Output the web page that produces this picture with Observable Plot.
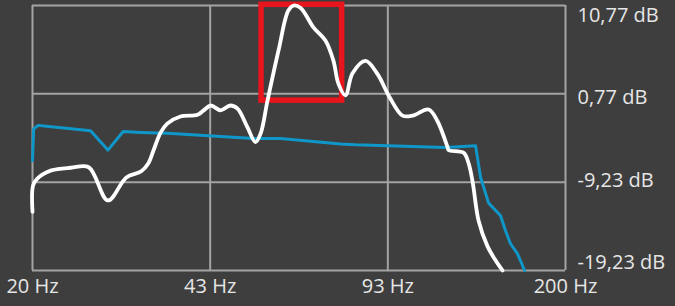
<!DOCTYPE html>
<html>
<head>
<meta charset="utf-8">
<script src="https://cdn.jsdelivr.net/npm/d3@7"></script>
<script src="https://cdn.jsdelivr.net/npm/@observablehq/plot@0.6"></script>
<style>
  html, body { margin: 0; padding: 0; background: #3e3e3e; }
</style>
</head>
<body>
<div id="chart"></div>
<script>
// Axis ticks
const freqTicks = [20, 43.09, 92.83, 200];
const freqTickLabels = ["20 Hz", "43 Hz", "93 Hz", "200 Hz"];
const dbTicks = [10.77, 0.77, -9.23, -19.23];
const dbTickLabels = ["10,77 dB", "0,77 dB", "-9,23 dB", "-19,23 dB"];

// White response curve
const whiteHz = [20, 20.05, 20.44, 21.7, 23.6, 25.5, 27.7, 30.0, 32.0, 33.0, 33.7, 34.8, 35.8, 37.9, 40.8, 41.9, 43.2, 45.1, 47.0, 48.5, 50.6, 52.4, 53.6, 55.2, 57.9, 60.4, 61.8, 63.7, 67.3, 70.9, 73.4, 75.0, 77.3, 79.7, 84.3, 88.8, 93.5, 98.9, 103.3, 110.7, 115.0, 120.2, 120.7, 128.8, 131.6, 133.9, 137.4, 142.8, 147.9, 152.4];
const whiteDb = [-12.6, -9.6, -8.8, -7.9, -7.6, -7.54, -11.3, -8.7, -8.0, -7.1, -5.7, -3.6, -2.6, -1.8, -1.6, -1.1, -0.55, -1.1, -0.55, -0.9, -3.0, -4.7, -3.7, 0.0, 5.7, 10.2, 10.77, 10.5, 8.3, 6.8, 4.5, 1.9, 0.6, 3.1, 4.5, 3.0, 0.4, -1.7, -1.7, -1.0, -2.3, -5.3, -5.6, -5.9, -7.1, -9.2, -13.6, -16.5, -18.1, -19.23];

// Blue target curve
const blueHz = [20, 20.1, 20.5, 21.2, 22.9, 25.7, 27.7, 29.6, 31.9, 35.8, 52.0, 58.4, 75.7, 80.7, 119.1, 135.6, 138.6, 143.5, 151.0, 154.3, 157.7, 162.4, 164.6, 167.6];
const blueDb = [-6.8, -3.2, -2.8, -2.9, -3.1, -3.4, -5.6, -3.5, -3.6, -3.7, -4.3, -4.3, -4.9, -5.0, -5.3, -5.1, -8.7, -11.6, -13.0, -14.7, -16.2, -17.3, -18.1, -19.23];

// Highlighted region
const highlightHz = [53.8, 76.2];
const highlightDb = [0, 10.85];

const white = whiteHz.map((f, i) => ({f, db: whiteDb[i]}));
const blue = blueHz.map((f, i) => ({f, db: blueDb[i]}));
const highlight = [{x1: highlightHz[0], x2: highlightHz[1], y1: highlightDb[0], y2: highlightDb[1]}];

const gridColor = "#a3a3a3";
const textColor = "#e6e6e6";

const chart = Plot.plot({
  width: 675,
  height: 306,
  marginLeft: 32,
  marginRight: 110,
  marginTop: 5,
  marginBottom: 36,
  style: {background: "#3e3e3e", fontFamily: "'Open Sans', sans-serif", color: textColor},
  x: {type: "log", domain: [20, 200], axis: null},
  y: {domain: [-19.23, 10.77], axis: null},
  marks: [
    Plot.ruleX(freqTicks, {stroke: gridColor, strokeWidth: 2}),
    Plot.ruleY(dbTicks, {stroke: gridColor, strokeWidth: 2}),
    Plot.rect(highlight, {x1: "x1", x2: "x2", y1: "y1", y2: "y2", fill: "none", stroke: "#e8151d", strokeWidth: 5.5}),
    Plot.line(blue, {x: "f", y: "db", stroke: "#0f97c9", strokeWidth: 3, strokeLinejoin: "round"}),
    Plot.line(white, {x: "f", y: "db", stroke: "#ffffff", strokeWidth: 3.8, strokeLinejoin: "round", curve: "catmull-rom"}),
    Plot.text(freqTicks, {x: d => d, frameAnchor: "bottom", dy: 22, text: (d, i) => freqTickLabels[i], fill: textColor, fontSize: 20}),
    ...dbTicks.map((v, i) => Plot.text([v], {
      y: d => d, frameAnchor: "right", textAnchor: "start", dx: 12, dy: 10 - 6 * i,
      text: () => dbTickLabels[i], fill: textColor, fontSize: 20
    }))
  ]
});
document.getElementById("chart").appendChild(chart);
</script>
</body>
</html>
